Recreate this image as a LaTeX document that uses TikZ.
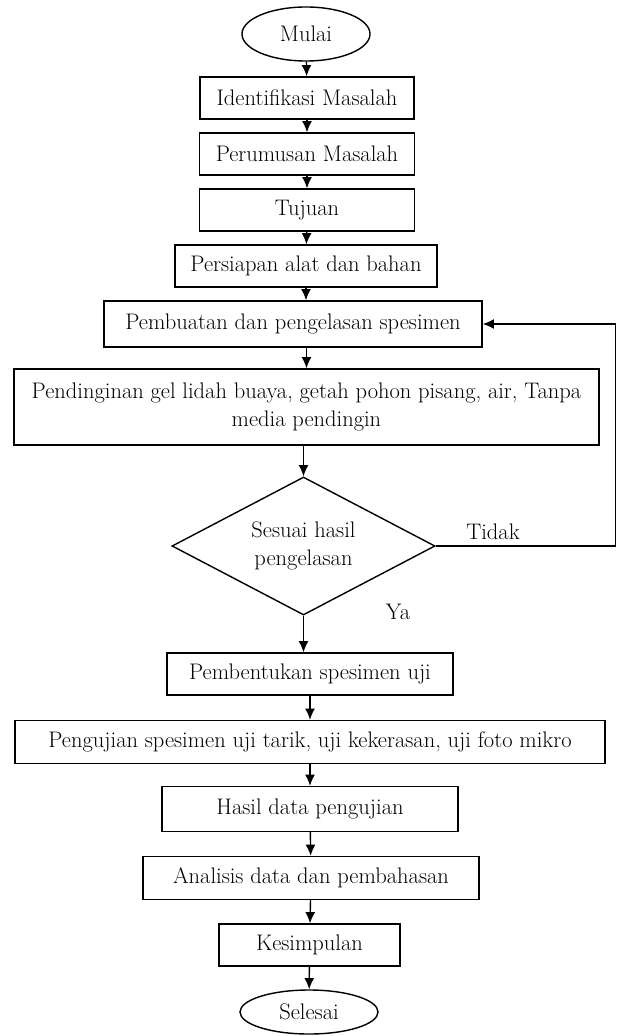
\documentclass[tikz,border=0pt]{standalone}
\usepackage{amsmath,amssymb}
\usepackage{fontspec}
\usetikzlibrary{shapes.geometric,arrows.meta}

\begin{document}
\begin{tikzpicture}[x=0.025cm,y=-0.025cm,
    font=\fontsize{16}{20}\selectfont,
    every node/.style={inner sep=0pt},
    kotak/.style={draw,line width=1pt,minimum height=1.05cm,align=center},
    terminal/.style={draw,ellipse,line width=1pt},
    keputusan/.style={draw,diamond,aspect=2,line width=1pt,align=center,minimum width=6.575cm,minimum height=3.45cm},
    panah/.style={line width=1pt,-{Latex[length=2.8mm,width=2.5mm]}}]
\useasboundingbox (0,0) rectangle (617,1036);

% start and the first steps
\node [terminal,minimum width=3.2cm,minimum height=1.35cm] (mulai) at (306,34) {Mulai};
\node [kotak,minimum width=5.35cm] (identifikasi) at (307,98) {Identifikasi Masalah};
\node [kotak,minimum width=5.375cm] (perumusan) at (307,154) {Perumusan Masalah};
\node [kotak,minimum width=5.375cm] (tujuan) at (307,210) {Tujuan};
\node [kotak,minimum width=6.55cm] (persiapan) at (306,266) {Persiapan alat dan bahan};
\node [kotak,minimum width=9.45cm,minimum height=1.15cm] (pembuatan) at (293,324) {Pembuatan dan pengelasan spesimen};
\node [kotak,minimum width=14.625cm,minimum height=1.9cm] (pendinginan) at (306.5,407)
   {Pendinginan gel lidah buaya, getah pohon pisang, air, Tanpa\\ media pendingin};

% the check
\node [keputusan] (sesuai) at (303.5,546) {Sesuai hasil\\ pengelasan};
\node (tidak) at (493,532) {Tidak};
\node (ya) at (398,612) {Ya};
\coordinate (balik) at (615.5,546);

% testing and the end
\node [kotak,minimum width=7.15cm] (pembentukan) at (310,674) {Pembentukan spesimen uji};
\node [kotak,minimum width=14.75cm,minimum height=1.075cm] (pengujian) at (310,742)
   {Pengujian spesimen uji tarik, uji kekerasan, uji foto mikro};
\node [kotak,minimum width=7.4cm,minimum height=1.125cm] (hasil) at (310,809) {Hasil data pengujian};
\node [kotak,minimum width=8.4cm,minimum height=1.075cm] (analisis) at (311,878) {Analisis data dan pembahasan};
\node [kotak,minimum width=4.525cm] (kesimpulan) at (309.5,945) {Kesimpulan};
\node [terminal,minimum width=3.45cm,minimum height=1.1cm] (selesai) at (309,1012) {Selesai};

\draw [panah] (mulai) -- (identifikasi);
\draw [panah] (identifikasi) -- (perumusan);
\draw [panah] (perumusan) -- (tujuan);
\draw [panah] (tujuan) -- (persiapan);
\draw [panah] (persiapan.south) -- (persiapan.south |- pembuatan.north);
\draw [panah] (pendinginan.north |- pembuatan.south) -- (pendinginan.north);
\draw [panah] (sesuai.north |- pendinginan.south) -- (sesuai.north);
\draw [panah] (sesuai.south) -- (sesuai.south |- pembentukan.north);
\draw [panah] (pembentukan) -- (pengujian);
\draw [panah] (pengujian) -- (hasil);
\draw [panah] (hasil) -- (analisis);
\draw [panah] (analisis) -- (kesimpulan);
\draw [panah] (kesimpulan) -- (selesai);

% back to welding when it fails
\draw [panah] (sesuai.east) -- (balik) |- (pembuatan.east);

\end{tikzpicture}
\end{document}
